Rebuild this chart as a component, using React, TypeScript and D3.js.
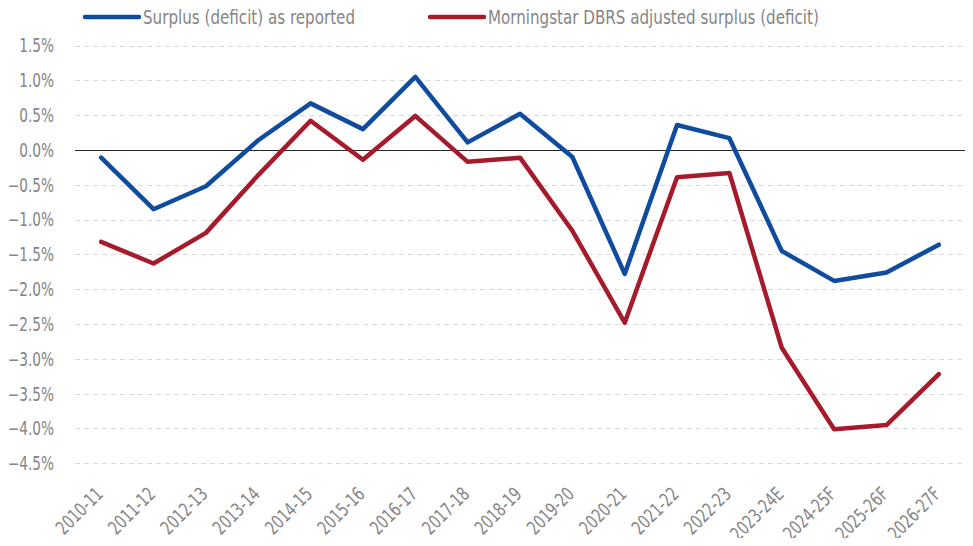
import { useEffect, useRef } from "react";
import * as d3 from "d3";

const years = [
  "2010-11", "2011-12", "2012-13", "2013-14", "2014-15", "2015-16", "2016-17", "2017-18", "2018-19",
  "2019-20", "2020-21", "2021-22", "2022-23", "2023-24E", "2024-25F", "2025-26F", "2026-27F",
];
const reported = [-0.11, -0.85, -0.52, 0.14, 0.67, 0.3, 1.05, 0.11, 0.52, -0.1, -1.78, 0.36, 0.17, -1.45, -1.88, -1.76, -1.36];
const adjusted = [-1.32, -1.63, -1.19, -0.36, 0.42, -0.14, 0.49, -0.17, -0.11, -1.16, -2.48, -0.39, -0.33, -2.84, -4.01, -3.95, -3.22];
const yTicks = [1.5, 1.0, 0.5, 0, -0.5, -1.0, -1.5, -2.0, -2.5, -3.0, -3.5, -4.0, -4.5];
const seriesNames = ["Surplus (deficit) as reported", "Morningstar DBRS adjusted surplus (deficit)"];
const seriesColors = ["#0f4c9e", "#a51b2c"];

const FONT = "'Liberation Sans Narrow', 'DejaVu Sans Condensed', sans-serif";
// the original face is narrower than anything installed, so squeeze horizontally
const TICK_SQUEEZE = 0.8;
const LEGEND_SQUEEZE = 0.885;

export default function App() {
  const ref = useRef<SVGSVGElement | null>(null);

  useEffect(() => {
    const svg = d3.select(ref.current);
    svg.selectAll("*").remove();

    const width = 973;
    const height = 546;
    const left = 75;
    const right = 965;
    const top = 45.6;
    const bottom = 463.3;

    const x = d3.scaleBand<string>().domain(years).range([left, right]);
    const y = d3.scaleLinear().domain([-4.5, 1.5]).range([bottom, top]);
    const cx = (d: string) => (x(d) ?? 0) + x.bandwidth() / 2;

    svg.attr("width", width).attr("height", height).style("font-family", FONT);

    // gridlines
    svg.append("g").selectAll("line").data(yTicks.filter((t) => t !== 0)).join("line")
      .attr("x1", left).attr("x2", right)
      .attr("y1", (d) => Math.round(y(d)) + 0.5).attr("y2", (d) => Math.round(y(d)) + 0.5)
      .attr("stroke", "#d9d9d9").attr("stroke-width", 1).attr("stroke-dasharray", "5,4");
    svg.append("line").attr("x1", left).attr("x2", right)
      .attr("y1", Math.round(y(0)) + 0.5).attr("y2", Math.round(y(0)) + 0.5)
      .attr("stroke", "#262626").attr("stroke-width", 1);

    // y labels
    svg.append("g").selectAll("text").data(yTicks).join("text")
      .attr("transform", (d) => `translate(54,${y(d)}) scale(${TICK_SQUEEZE},1)`)
      .attr("dy", "0.36em")
      .attr("text-anchor", "end").attr("fill", "#858585").attr("font-size", 19)
      .text((d) => d3.format(".1f")(d) + "%");

    // x labels
    svg.append("g").selectAll("text").data(years).join("text")
      .attr("transform", (d) => `translate(${cx(d) + 3},${bottom + 32}) rotate(-45) scale(${TICK_SQUEEZE},1)`)
      .attr("text-anchor", "end").attr("fill", "#858585").attr("font-size", 19)
      .text((d) => d);

    // lines
    const line = d3.line<number>().x((_, i) => cx(years[i])).y((d) => y(d));
    [reported, adjusted].forEach((s, i) => {
      svg.append("path").datum(s).attr("fill", "none").attr("stroke", seriesColors[i])
        .attr("stroke-width", 4.5).attr("stroke-linejoin", "round").attr("stroke-linecap", "round")
        .attr("d", line);
    });

    // legend
    const legendX = [85, 430];
    seriesNames.forEach((name, i) => {
      const g = svg.append("g").attr("transform", `translate(${legendX[i]},17)`);
      g.append("line").attr("x1", 0).attr("x2", 54).attr("y1", 0).attr("y2", 0)
        .attr("stroke", seriesColors[i]).attr("stroke-width", 4.5).attr("stroke-linecap", "round");
      g.append("text").attr("transform", `translate(58,0) scale(${LEGEND_SQUEEZE},1)`).attr("dy", "0.36em")
        .attr("fill", "#858585").attr("font-size", 19).text(name);
    });
  }, []);

  return (
    <div style={{ margin: -8 }}>
      <svg ref={ref} style={{ display: "block" }} />
    </div>
  );
}
